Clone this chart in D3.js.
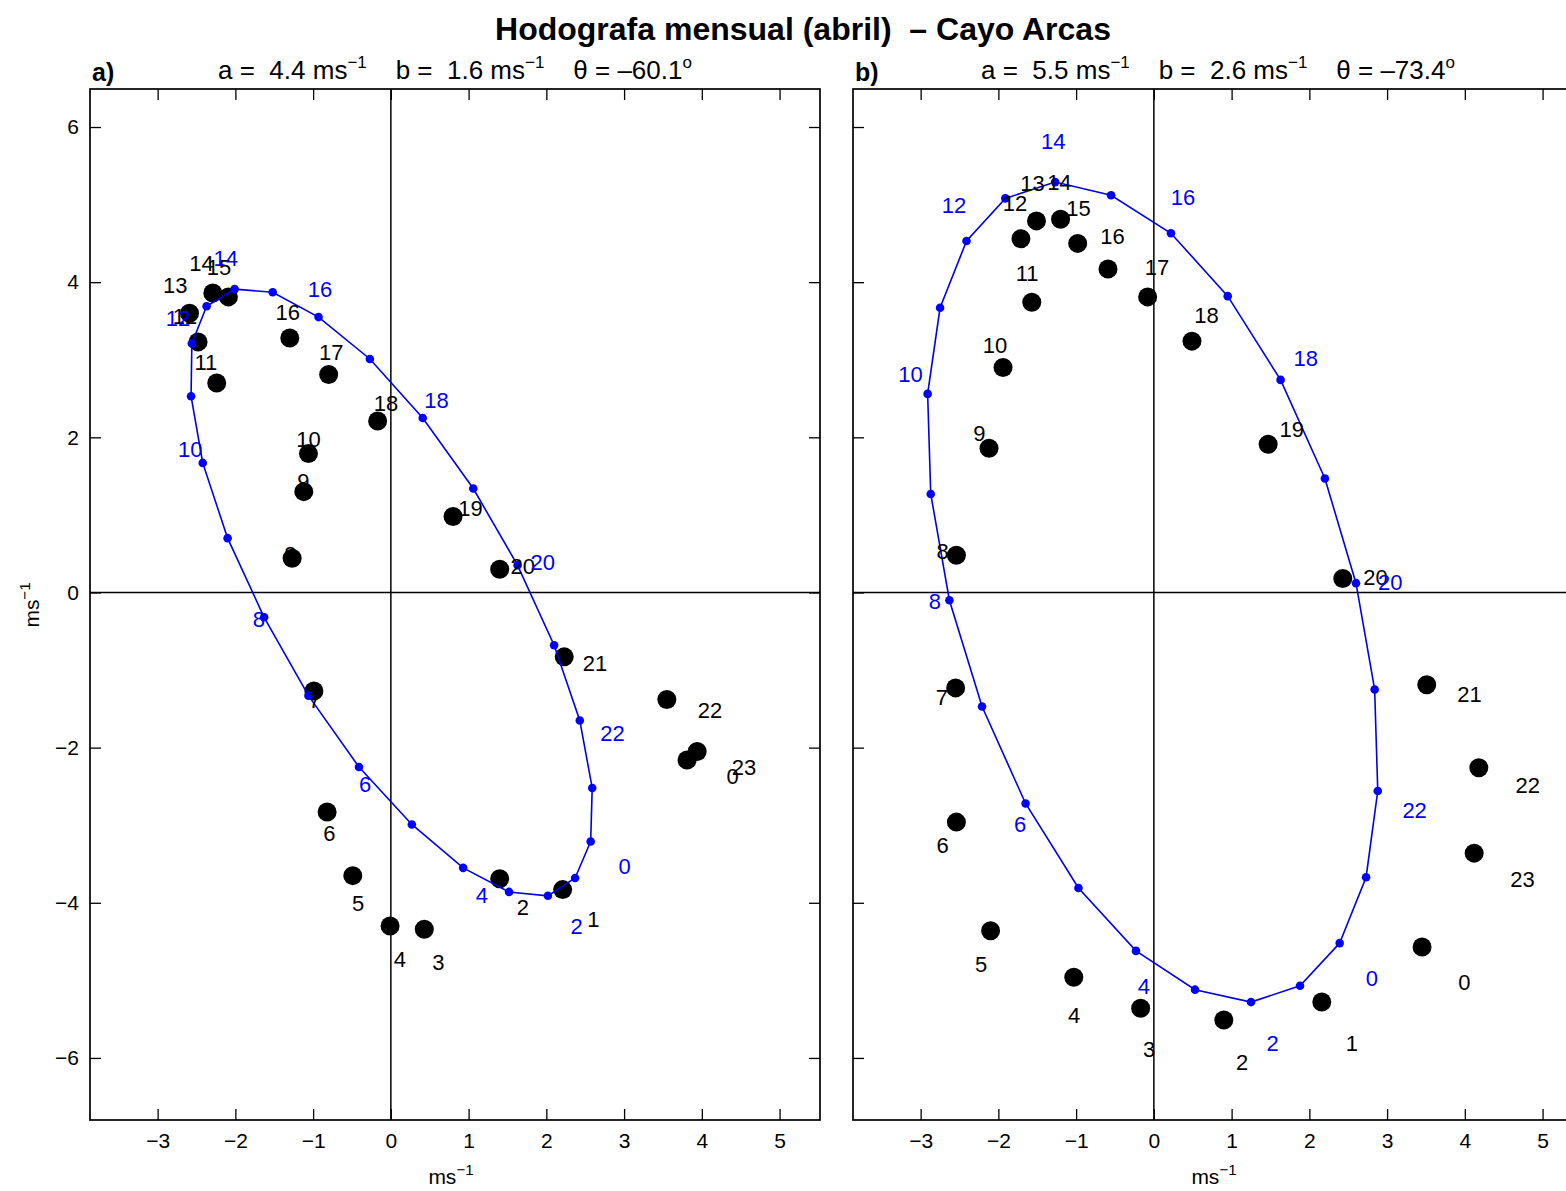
<!DOCTYPE html>
<html>
<head>
<meta charset="utf-8">
<script src="https://cdn.jsdelivr.net/npm/d3@7"></script>
<style>
  html, body { margin: 0; padding: 0; background: #fff; }
  svg { display: block; font-family: "Liberation Sans", Arial, Helvetica, sans-serif; }
  text { white-space: pre; }
</style>
</head>
<body>
<script>
// Hourly hodograph, April, Cayo Arcas: mean wind components (u, v) per hour
// and the fitted ellipse evaluated at each hour.
const hours = [0,1,2,3,4,5,6,7,8,9,10,11,12,13,14,15,16,17,18,19,20,21,22,23];
const fitLabelHours = [0,2,4,6,8,10,12,14,16,18,20,22];
const xTicks = [-3,-2,-1,0,1,2,3,4,5];
const yTicks = [-6,-4,-2,0,2,4,6];

// Panel a) observed hourly means (ms^-1)
const obsU_a = [3.81, 2.21, 1.40, 0.43, -0.01, -0.49, -0.82, -0.99, -1.27, -1.12, -1.06, -2.24,
                -2.48, -2.59, -2.29, -2.09, -1.30, -0.80, -0.17, 0.80, 1.40, 2.23, 3.55, 3.94];
const obsV_a = [-2.16, -3.83, -3.69, -4.34, -4.30, -3.65, -2.83, -1.27, 0.44, 1.30, 1.79, 2.70,
                3.23, 3.60, 3.86, 3.81, 3.28, 2.81, 2.21, 0.98, 0.30, -0.83, -1.38, -2.05];
// Panel a) fitted ellipse at each hour
const fitU_a = [2.57, 2.37, 2.02, 1.52, 0.93, 0.27, -0.41, -1.06, -1.63, -2.10, -2.42, -2.57,
                -2.56, -2.37, -2.01, -1.52, -0.93, -0.27, 0.41, 1.06, 1.63, 2.10, 2.43, 2.59];
const fitV_a = [-3.21, -3.68, -3.91, -3.86, -3.55, -2.99, -2.25, -1.33, -0.32, 0.70, 1.67, 2.53,
                3.21, 3.69, 3.91, 3.87, 3.55, 3.01, 2.25, 1.34, 0.35, -0.68, -1.65, -2.52];

// Panel b) observed hourly means (ms^-1)
const obsU_b = [3.45, 2.16, 0.90, -0.17, -1.03, -2.10, -2.54, -2.55, -2.54, -2.12, -1.94, -1.57,
                -1.71, -1.51, -1.20, -0.98, -0.59, -0.08, 0.49, 1.47, 2.43, 3.51, 4.18, 4.12];
const obsV_b = [-4.57, -5.28, -5.51, -5.36, -4.96, -4.36, -2.96, -1.23, 0.48, 1.86, 2.90, 3.74,
                4.56, 4.79, 4.81, 4.50, 4.17, 3.81, 3.24, 1.91, 0.18, -1.19, -2.26, -3.36];
// Panel b) fitted ellipse at each hour
const fitU_b = [2.39, 1.88, 1.25, 0.53, -0.23, -0.97, -1.65, -2.21, -2.63, -2.87, -2.91, -2.75,
                -2.41, -1.91, -1.27, -0.55, 0.22, 0.95, 1.63, 2.20, 2.60, 2.84, 2.88, 2.73];
const fitV_b = [-4.52, -5.07, -5.28, -5.12, -4.62, -3.81, -2.72, -1.47, -0.10, 1.27, 2.56, 3.67,
                4.53, 5.08, 5.29, 5.12, 4.63, 3.82, 2.74, 1.47, 0.12, -1.25, -2.56, -3.67];

// Ellipse parameters: semi-major, semi-minor (ms^-1), inclination (deg)
const paramsA = { a: 4.4, b: 1.6, theta: -60.1 };
const paramsB = { a: 5.5, b: 2.6, theta: -73.4 };

const W = 1566, H = 1191;
const panelW = 730, panelH = 1031, panelTop = 89;
// hour labels sit just outside their points
const labelScaleX = 1.12, labelScaleY = 1.1, labelDx = 10;

const svg = d3.select("body").append("svg")
  .attr("width", W).attr("height", H);

const x = d3.scaleLinear().domain([-3.87, 5.52]).range([0, panelW]);
const y = d3.scaleLinear().domain([-6.8, 6.49]).range([panelH, 0]);
const fmt = d => d < 0 ? "\u2212" + Math.abs(d) : String(d);
const dashNum = v => (v < 0 ? "\u2013" : "") + Math.abs(v).toFixed(1);

// Title
svg.append("text")
  .attr("x", 803).attr("y", 40)
  .attr("text-anchor", "middle")
  .attr("font-size", 32).attr("font-weight", "bold")
  .text("Hodografa mensual (abril)  \u2013 Cayo Arcas");

function unitText(sel) {
  sel.append("tspan").text("ms");
  sel.append("tspan").attr("dy", -9).attr("font-size", "0.72em").text("\u22121");
}

function drawPanel(left, tag, params, obsU, obsV, fitU, fitV, showYLabels) {
  const g = svg.append("g").attr("transform", `translate(${left},${panelTop})`);

  // panel tag and ellipse parameters
  g.append("text").attr("x", 2).attr("y", -8)
    .attr("font-size", 25).attr("font-weight", "bold").text(tag);

  const sub = g.append("text")
    .attr("x", panelW / 2).attr("y", -10)
    .attr("text-anchor", "middle").attr("font-size", 26);
  sub.append("tspan").text(`a =  ${params.a.toFixed(1)} ms`);
  sub.append("tspan").attr("dy", -11).attr("font-size", 17).text("\u22121");
  sub.append("tspan").attr("dy", 11).text(`    b =  ${params.b.toFixed(1)} ms`);
  sub.append("tspan").attr("dy", -11).attr("font-size", 17).text("\u22121");
  sub.append("tspan").attr("dy", 11).text(`    \u03b8 = ${dashNum(params.theta)}`);
  sub.append("tspan").attr("dy", -11).attr("font-size", 17).text("o");

  // axes with inward ticks
  const axB = g.append("g").attr("transform", `translate(0,${panelH})`)
    .call(d3.axisBottom(x).tickValues(xTicks).tickSizeInner(-11).tickSizeOuter(0)
      .tickPadding(13).tickFormat(fmt));
  const axT = g.append("g")
    .call(d3.axisTop(x).tickValues(xTicks).tickSizeInner(-11).tickSizeOuter(0).tickFormat(""));
  const axL = g.append("g")
    .call(d3.axisLeft(y).tickValues(yTicks).tickSizeInner(-11).tickSizeOuter(0)
      .tickPadding(11).tickFormat(showYLabels ? fmt : ""));
  const axR = g.append("g").attr("transform", `translate(${panelW},0)`)
    .call(d3.axisRight(y).tickValues(yTicks).tickSizeInner(-11).tickSizeOuter(0).tickFormat(""));
  [axB, axT, axL, axR].forEach(a => {
    a.select(".domain").remove();
    a.selectAll("line").attr("stroke", "#000").attr("stroke-width", 1.3);
    a.selectAll("text").attr("font-size", 21).attr("font-family", "Liberation Sans, Arial, sans-serif").attr("fill", "#000");
  });

  // frame
  g.append("rect").attr("x", 0).attr("y", 0).attr("width", panelW).attr("height", panelH)
    .attr("fill", "none").attr("stroke", "#000").attr("stroke-width", 1.7);

  // zero lines
  g.append("line").attr("x1", x(0)).attr("x2", x(0)).attr("y1", 0).attr("y2", panelH)
    .attr("stroke", "#000").attr("stroke-width", 1.5);
  g.append("line").attr("x1", 0).attr("x2", panelW).attr("y1", y(0)).attr("y2", y(0))
    .attr("stroke", "#000").attr("stroke-width", 1.5);

  // axis title
  const xt = g.append("text").attr("x", panelW / 2 - 4).attr("y", panelH + 64)
    .attr("text-anchor", "middle").attr("font-size", 21);
  unitText(xt);

  const obs = hours.map(h => ({ h, u: obsU[h], v: obsV[h] }));
  const fit = hours.map(h => ({ h, u: fitU[h], v: fitV[h] }));

  // observed hourly means
  g.append("g").selectAll("circle").data(obs).join("circle")
    .attr("cx", d => x(d.u)).attr("cy", d => y(d.v)).attr("r", 9.5).attr("fill", "#000");

  // fitted ellipse (closed through the day)
  const line = d3.line().x(d => x(d.u)).y(d => y(d.v)).curve(d3.curveLinearClosed);
  g.append("path").datum(fit).attr("d", line)
    .attr("fill", "none").attr("stroke", "#0000e6").attr("stroke-width", 1.6);
  g.append("g").selectAll("circle").data(fit).join("circle")
    .attr("cx", d => x(d.u)).attr("cy", d => y(d.v)).attr("r", 4.3).attr("fill", "#0000ff");

  // hour labels
  const lx = d => x(d.u * labelScaleX) + labelDx;
  const ly = d => y(d.v * labelScaleY);
  g.append("g").selectAll("text").data(obs).join("text")
    .attr("x", lx).attr("y", ly)
    .attr("text-anchor", "middle").attr("dominant-baseline", "central")
    .attr("font-size", 22).attr("fill", "#000").text(d => d.h);
  g.append("g").selectAll("text").data(fit.filter(d => fitLabelHours.includes(d.h))).join("text")
    .attr("x", lx).attr("y", ly)
    .attr("text-anchor", "middle").attr("dominant-baseline", "central")
    .attr("font-size", 22).attr("fill", "#0000ff").text(d => d.h);

  return g;
}

drawPanel(90, "a)", paramsA, obsU_a, obsV_a, fitU_a, fitV_a, true);
drawPanel(853, "b)", paramsB, obsU_b, obsV_b, fitU_b, fitV_b, false);

// y-axis title
const yt = svg.append("text")
  .attr("transform", "translate(39,605) rotate(-90)")
  .attr("text-anchor", "middle").attr("font-size", 21);
unitText(yt);
</script>
</body>
</html>
